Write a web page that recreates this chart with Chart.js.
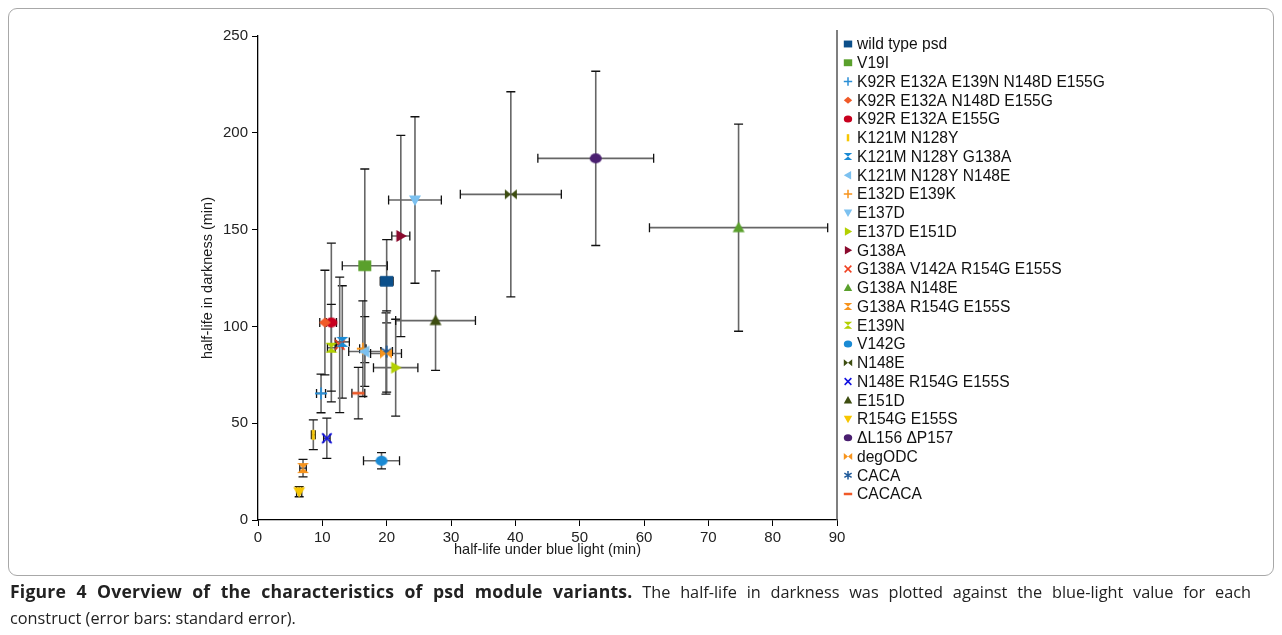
<!DOCTYPE html>
<html>
<head>
<meta charset="utf-8">
<script src="https://cdn.jsdelivr.net/npm/chart.js@4"></script>
<style>
  body { margin: 0; background: #fff; }
  #wrap { position: relative; width: 1282px; height: 635px; overflow: hidden; }
  #frame {
    position: absolute; left: 8px; top: 8px; width: 1264px; height: 566px;
    border: 1px solid #a8a8a8; border-radius: 9px; pointer-events: none;
  }
  #chart { position: absolute; left: 0; top: 0; }
  #caption {
    position: absolute; left: 10px; top: 579px; width: 1241px;
    font-family: "Open Sans", sans-serif; font-size: 16.3px; line-height: 26px; color: #222;
  }
  #caption b { font-size: 17.6px; letter-spacing: 0.2px; line-height: 1; }
  #caption .l1 { text-align: justify; text-align-last: justify; }
</style>
</head>
<body>
<div id="wrap">
  <canvas id="chart" width="1282" height="575"></canvas>
  <div id="frame"></div>
  <div id="caption">
    <div class="l1"><b>Figure 4 Overview of the characteristics of psd module variants.</b> The half-life in darkness was plotted against the blue-light value for each</div>
    <div>construct (error bars: standard error).</div>
  </div>
</div>
<script>
// constructs, in legend order
const constructs = [
  "wild type psd", "V19I", "K92R E132A E139N N148D E155G", "K92R E132A N148D E155G",
  "K92R E132A E155G", "K121M N128Y", "K121M N128Y G138A", "K121M N128Y N148E",
  "E132D E139K", "E137D", "E137D E151D", "G138A", "G138A V142A R154G E155S",
  "G138A N148E", "G138A R154G E155S", "E139N", "V142G", "N148E",
  "N148E R154G E155S", "E151D", "R154G E155S", "\u0394L156 \u0394P157", "degODC",
  "CACA", "CACACA"
];
// half-life under blue light (min) and its standard error
const blueLight = [20.0, 16.6, 9.8, 10.4, 11.4, 8.6, 13.1, 16.6, 16.3, 24.4, 21.4, 22.2, 12.7,
  74.7, 7.0, 11.4, 19.2, 39.3, 10.7, 27.6, 6.4, 52.5, 19.9, 20.0, 15.6];
const blueLightErr = [1.0, 3.5, 0.7, 0.8, 0.8, 0.3, 1.1, 2.5, 0.5, 4.1, 3.45, 1.4, 0.5,
  13.85, 0.5, 0.6, 2.8, 7.85, 0.5, 6.2, 0.4, 9.0, 2.4, 0.9, 1.0];
// half-life in darkness (min) and its standard error
const darkness = [123.3, 131.3, 65.4, 102, 102, 44, 92, 87, 88.5, 165.3, 78.7, 146.7, 90.5,
  151, 26.8, 89, 30.6, 168.2, 42.2, 103, 14.6, 186.8, 86, 87, 65.5];
const darknessErr = [21.5, 50, 10, 27, 41, 7.7, 29, 18, 24.7, 43, 25, 52, 35,
  53.5, 4.5, 22.4, 4.2, 53, 10.4, 25.7, 2.6, 45, 21, 21, 13.3];

const xTicks = [0, 10, 20, 30, 40, 50, 60, 70, 80, 90];
const yTicks = [0, 50, 100, 150, 200, 250];

// marker look for each construct
const colors = ["#0b4f8a", "#5aa02c", "#2b8fd6", "#f05a28", "#c8001e", "#f7c600", "#1a8ad4",
  "#7cc1f0", "#f7941d", "#7cc1f0", "#b3d000", "#8b0a2e", "#f04020", "#5aa02c", "#f7941d",
  "#b3d000", "#1a8ad4", "#3d4d10", "#1010e0", "#3d4d10", "#f7c600", "#4a1f70", "#f7941d",
  "#1f5a9a", "#f05a28"];
const shapes = ["square", "square", "plus", "diamond", "circle", "vbar", "hourglass", "triLeft",
  "plus", "triDown", "triRight", "triRight", "x", "triUp", "hourglass", "hourglass", "circle",
  "bowtie", "x", "triUp", "triDown", "circle", "bowtie", "asterisk", "dash"];

function drawShape(ctx, shape, color, cx, cy, r) {
  ctx.save();
  ctx.fillStyle = color;
  ctx.strokeStyle = color;
  ctx.lineWidth = Math.max(1.5, r * 0.3);
  ctx.beginPath();
  switch (shape) {
    case "square":
      ctx.fillRect(cx - r, cy - r * 0.82, 2 * r, 1.64 * r);
      break;
    case "circle":
      ctx.ellipse(cx, cy, r, r * 0.85, 0, 0, Math.PI * 2);
      ctx.fill();
      break;
    case "diamond":
      ctx.moveTo(cx, cy - r * 0.85); ctx.lineTo(cx + r, cy);
      ctx.lineTo(cx, cy + r * 0.85); ctx.lineTo(cx - r, cy);
      ctx.closePath(); ctx.fill();
      break;
    case "plus":
      ctx.moveTo(cx - r, cy); ctx.lineTo(cx + r, cy);
      ctx.moveTo(cx, cy - r); ctx.lineTo(cx, cy + r);
      ctx.stroke();
      break;
    case "x":
      ctx.moveTo(cx - r * 0.8, cy - r * 0.8); ctx.lineTo(cx + r * 0.8, cy + r * 0.8);
      ctx.moveTo(cx + r * 0.8, cy - r * 0.8); ctx.lineTo(cx - r * 0.8, cy + r * 0.8);
      ctx.stroke();
      break;
    case "asterisk":
      for (let k = 0; k < 3; k++) {
        const a = Math.PI / 2 + k * Math.PI / 3;
        ctx.moveTo(cx + Math.cos(a) * r, cy + Math.sin(a) * r);
        ctx.lineTo(cx - Math.cos(a) * r, cy - Math.sin(a) * r);
      }
      ctx.stroke();
      break;
    case "dash":
      ctx.lineWidth = Math.max(2.5, r * 0.45);
      ctx.moveTo(cx - r, cy); ctx.lineTo(cx + r, cy);
      ctx.stroke();
      break;
    case "vbar":
      ctx.lineWidth = Math.max(2.5, r * 0.5);
      ctx.moveTo(cx, cy - r * 0.85); ctx.lineTo(cx, cy + r * 0.85);
      ctx.stroke();
      break;
    case "triUp":
      ctx.moveTo(cx, cy - r); ctx.lineTo(cx + r, cy + r * 0.75); ctx.lineTo(cx - r, cy + r * 0.75);
      ctx.closePath(); ctx.fill();
      break;
    case "triDown":
      ctx.moveTo(cx, cy + r); ctx.lineTo(cx + r, cy - r * 0.75); ctx.lineTo(cx - r, cy - r * 0.75);
      ctx.closePath(); ctx.fill();
      break;
    case "triLeft":
      ctx.moveTo(cx - r, cy); ctx.lineTo(cx + r * 0.75, cy - r); ctx.lineTo(cx + r * 0.75, cy + r);
      ctx.closePath(); ctx.fill();
      break;
    case "triRight":
      ctx.moveTo(cx + r, cy); ctx.lineTo(cx - r * 0.75, cy - r); ctx.lineTo(cx - r * 0.75, cy + r);
      ctx.closePath(); ctx.fill();
      break;
    case "hourglass":
      ctx.moveTo(cx - r, cy - r * 0.85); ctx.lineTo(cx + r, cy - r * 0.85); ctx.lineTo(cx, cy);
      ctx.closePath();
      ctx.moveTo(cx - r, cy + r * 0.85); ctx.lineTo(cx + r, cy + r * 0.85); ctx.lineTo(cx, cy);
      ctx.closePath(); ctx.fill();
      break;
    case "bowtie":
      ctx.moveTo(cx - r, cy - r * 0.85); ctx.lineTo(cx - r, cy + r * 0.85); ctx.lineTo(cx, cy);
      ctx.closePath();
      ctx.moveTo(cx + r, cy - r * 0.85); ctx.lineTo(cx + r, cy + r * 0.85); ctx.lineTo(cx, cy);
      ctx.closePath(); ctx.fill();
      break;
  }
  ctx.restore();
}

function makeMarker(shape, color, r) {
  const c = document.createElement("canvas");
  c.width = c.height = Math.ceil(2 * r + 4);
  drawShape(c.getContext("2d"), shape, color, c.width / 2, c.height / 2, r);
  return c;
}

// error bars, drawn under the markers
const errorBars = {
  id: "errorBars",
  beforeDatasetsDraw(chart) {
    const { ctx, scales: { x, y } } = chart;
    const cap = 4.5;
    ctx.save();
    constructs.forEach((name, i) => {
      const px = x.getPixelForValue(blueLight[i]);
      const py = y.getPixelForValue(darkness[i]);
      const x0 = x.getPixelForValue(blueLight[i] - blueLightErr[i]);
      const x1 = x.getPixelForValue(blueLight[i] + blueLightErr[i]);
      const y0 = y.getPixelForValue(darkness[i] - darknessErr[i]);
      const y1 = y.getPixelForValue(darkness[i] + darknessErr[i]);
      ctx.strokeStyle = "#666";
      ctx.lineWidth = 1.6;
      ctx.beginPath();
      ctx.moveTo(x0, py); ctx.lineTo(x1, py);
      ctx.moveTo(px, y0); ctx.lineTo(px, y1);
      ctx.stroke();
      ctx.strokeStyle = "#111";
      ctx.lineWidth = 1.3;
      ctx.beginPath();
      ctx.moveTo(x0, py - cap); ctx.lineTo(x0, py + cap);
      ctx.moveTo(x1, py - cap); ctx.lineTo(x1, py + cap);
      ctx.moveTo(px - cap, y0); ctx.lineTo(px + cap, y0);
      ctx.moveTo(px - cap, y1); ctx.lineTo(px + cap, y1);
      ctx.stroke();
    });
    ctx.restore();
  },
};

// legend column to the right of the plot, with its left rule
const sideLegend = {
  id: "sideLegend",
  afterDraw(chart) {
    const { ctx, chartArea } = chart;
    ctx.save();
    ctx.strokeStyle = "#555";
    ctx.lineWidth = 1.5;
    ctx.beginPath();
    ctx.moveTo(chartArea.right, chartArea.top - 6);
    ctx.lineTo(chartArea.right, chartArea.bottom);
    ctx.stroke();
    ctx.font = "15.6px 'Liberation Sans', Arial, sans-serif";
    ctx.fillStyle = "#111";
    ctx.textBaseline = "middle";
    constructs.forEach((name, i) => {
      const ly = chartArea.top + 8 + i * 18.75;
      drawShape(ctx, shapes[i], colors[i], chartArea.right + 11, ly, 4.2);
      ctx.fillText(name, chartArea.right + 20, ly + 1);
    });
    ctx.restore();
  },
};

Chart.defaults.font.family = "'Liberation Sans', Arial, sans-serif";
Chart.defaults.color = "#1a1a1a";

new Chart(document.getElementById("chart"), {
  type: "scatter",
  data: {
    datasets: constructs.map((name, i) => ({
      label: name,
      data: [{ x: blueLight[i], y: darkness[i] }],
      pointStyle: makeMarker(shapes[i], colors[i], shapes[i] === "square" ? 6.5 : 6),
      pointRadius: 6,
      backgroundColor: colors[i],
      borderColor: colors[i],
    })),
  },
  options: {
    responsive: false,
    animation: false,
    layout: { padding: { left: 195, right: 445, top: 36, bottom: 12 } },
    plugins: { legend: { display: false }, tooltip: { enabled: false } },
    scales: {
      x: {
        type: "linear",
        min: xTicks[0],
        max: xTicks[xTicks.length - 1],
        afterBuildTicks: (axis) => { axis.ticks = xTicks.map((v) => ({ value: v })); },
        afterFit: (axis) => { axis.height = 43; },
        ticks: { padding: 3, font: { size: 15 }, color: "#222" },
        grid: { drawOnChartArea: false, tickLength: 6, color: "#000" },
        border: { color: "#000", width: 1.3 },
        title: { display: true, text: "half-life under blue light (min)", font: { size: 14.5 }, padding: { top: 2, bottom: 4 } },
      },
      y: {
        type: "linear",
        min: yTicks[0],
        max: yTicks[yTicks.length - 1],
        afterBuildTicks: (axis) => { axis.ticks = yTicks.map((v) => ({ value: v })); },
        afterFit: (axis) => { axis.width = 63; },
        ticks: { padding: 4, font: { size: 15 }, color: "#222" },
        grid: { drawOnChartArea: false, tickLength: 6, color: "#000" },
        border: { color: "#000", width: 1.3 },
        title: { display: true, text: "half-life in darkness (min)", font: { size: 14.5 }, padding: { top: 4, bottom: 2 } },
      },
    },
  },
  plugins: [errorBars, sideLegend],
});
</script>
</body>
</html>
